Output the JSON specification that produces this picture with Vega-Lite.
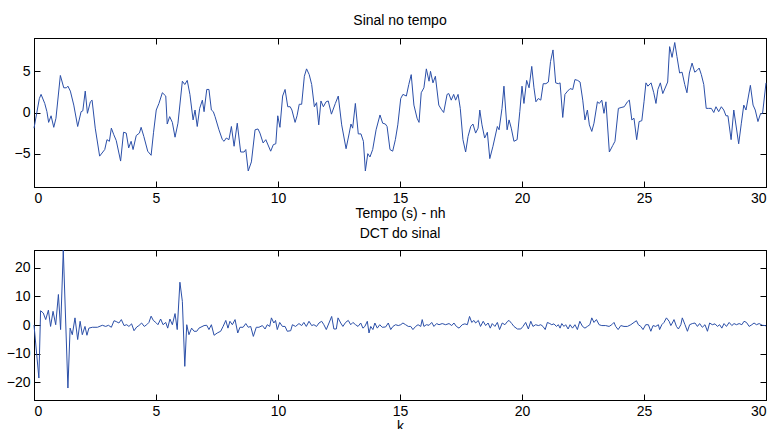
{
  "$schema": "https://vega.github.io/schema/vega-lite/v6.json",
  "autosize": {"type": "pad"},
  "padding": {"left": 5, "top": 13, "right": 0, "bottom": 0},
  "background": "white",
  "spacing": 63,
  "bounds": "flush",
  "config": {
    "view": {"stroke": "#000000", "strokeWidth": 1},
    "font": "Liberation Sans",
    "axis": {
      "grid": false,
      "domainColor": "#000000",
      "tickColor": "#000000",
      "tickSize": -6,
      "labelFont": "Liberation Sans",
      "labelFontSize": 14,
      "labelColor": "#000000",
      "labelPadding": 10,
      "titleFont": "Liberation Sans",
      "titleFontSize": 14,
      "titleFontWeight": "normal",
      "titleColor": "#000000",
      "titlePadding": 1
    },
    "title": {"font": "Liberation Sans", "fontSize": 14, "fontWeight": "normal", "color": "#000000", "offset": 10}
  },
  "datasets": {
    "sig": [
      {"t":0,"v":-1.9},{"t":0.22,"v":1.7},{"t":0.29,"v":2.2},{"t":0.44,"v":1.1},{"t":0.53,"v":0.1},{"t":0.6,"v":-1.2},{"t":0.7,"v":-0.4},{"t":0.81,"v":-1.8},{"t":0.9,"v":-0.7},{"t":1.08,"v":4.5},{"t":1.22,"v":3.0},{"t":1.33,"v":3.0},{"t":1.39,"v":3.2},{"t":1.49,"v":2.6},{"t":1.63,"v":0.9},{"t":1.79,"v":-1.7},{"t":1.93,"v":0.1},{"t":2.0,"v":0.2},{"t":2.1,"v":2.6},{"t":2.19,"v":-0.1},{"t":2.31,"v":1.3},{"t":2.38,"v":1.5},{"t":2.51,"v":-1.9},{"t":2.69,"v":-5.3},{"t":2.9,"v":-4.5},{"t":2.99,"v":-3.3},{"t":3.09,"v":-3.5},{"t":3.17,"v":-1.9},{"t":3.27,"v":-2.7},{"t":3.37,"v":-3.4},{"t":3.55,"v":-5.9},{"t":3.67,"v":-2.4},{"t":3.78,"v":-2.5},{"t":3.88,"v":-4.3},{"t":3.98,"v":-3.5},{"t":4.06,"v":-4.5},{"t":4.19,"v":-2.8},{"t":4.32,"v":-2.5},{"t":4.39,"v":-1.8},{"t":4.5,"v":-2.9},{"t":4.66,"v":-4.7},{"t":4.8,"v":-5.2},{"t":4.9,"v":-2.4},{"t":5.01,"v":0.3},{"t":5.12,"v":1.1},{"t":5.26,"v":2.4},{"t":5.4,"v":2.0},{"t":5.46,"v":-1.4},{"t":5.56,"v":-0.5},{"t":5.67,"v":-1.2},{"t":5.78,"v":-3.0},{"t":5.9,"v":-1.3},{"t":6.08,"v":3.8},{"t":6.18,"v":3.4},{"t":6.28,"v":3.9},{"t":6.39,"v":2.2},{"t":6.52,"v":-0.9},{"t":6.6,"v":0.3},{"t":6.69,"v":-1.7},{"t":6.79,"v":0.5},{"t":6.9,"v":1.5},{"t":6.97,"v":0.1},{"t":7.08,"v":2.8},{"t":7.17,"v":2.8},{"t":7.27,"v":0.3},{"t":7.35,"v":0.1},{"t":7.42,"v":-0.5},{"t":7.58,"v":-2.1},{"t":7.72,"v":-3.3},{"t":7.79,"v":-3.5},{"t":7.88,"v":-3.1},{"t":7.99,"v":-3.3},{"t":8.09,"v":-1.7},{"t":8.2,"v":-4.1},{"t":8.33,"v":-1.3},{"t":8.47,"v":-4.8},{"t":8.61,"v":-4.8},{"t":8.68,"v":-4.5},{"t":8.78,"v":-7.1},{"t":8.91,"v":-6.0},{"t":9.06,"v":-2.1},{"t":9.18,"v":-2.0},{"t":9.26,"v":-2.5},{"t":9.39,"v":-3.7},{"t":9.5,"v":-3.3},{"t":9.7,"v":-4.7},{"t":9.81,"v":-3.9},{"t":9.91,"v":-3.8},{"t":9.99,"v":-0.4},{"t":10.08,"v":-1.8},{"t":10.19,"v":2.0},{"t":10.29,"v":2.8},{"t":10.4,"v":0.7},{"t":10.5,"v":0.7},{"t":10.57,"v":0.3},{"t":10.7,"v":-1.2},{"t":10.78,"v":-0.4},{"t":10.87,"v":1.0},{"t":10.97,"v":1.0},{"t":11.08,"v":4.4},{"t":11.17,"v":5.3},{"t":11.28,"v":4.6},{"t":11.38,"v":3.4},{"t":11.49,"v":0.7},{"t":11.58,"v":1.2},{"t":11.67,"v":-1.5},{"t":11.76,"v":1.4},{"t":11.86,"v":0.7},{"t":11.97,"v":1.3},{"t":12.06,"v":1.4},{"t":12.19,"v":-0.2},{"t":12.35,"v":1.1},{"t":12.47,"v":2.0},{"t":12.61,"v":-1.5},{"t":12.79,"v":-4.4},{"t":12.92,"v":-2.5},{"t":12.99,"v":-1.4},{"t":13.06,"v":-1.9},{"t":13.17,"v":1.1},{"t":13.29,"v":-2.6},{"t":13.4,"v":-2.6},{"t":13.5,"v":-3.5},{"t":13.58,"v":-7.1},{"t":13.68,"v":-5.0},{"t":13.77,"v":-5.4},{"t":13.88,"v":-4.5},{"t":14.02,"v":-2.1},{"t":14.18,"v":-0.3},{"t":14.29,"v":-1.3},{"t":14.4,"v":-1.4},{"t":14.47,"v":-1.7},{"t":14.59,"v":-4.5},{"t":14.7,"v":-4.7},{"t":14.81,"v":-3.3},{"t":14.91,"v":-1.5},{"t":15.03,"v":1.7},{"t":15.12,"v":2.2},{"t":15.26,"v":2.0},{"t":15.36,"v":3.4},{"t":15.46,"v":4.6},{"t":15.57,"v":0.9},{"t":15.7,"v":-0.7},{"t":15.78,"v":-1.2},{"t":15.87,"v":2.4},{"t":15.98,"v":3.0},{"t":16.08,"v":5.3},{"t":16.19,"v":3.8},{"t":16.25,"v":5.0},{"t":16.35,"v":3.6},{"t":16.45,"v":4.4},{"t":16.59,"v":0.9},{"t":16.69,"v":0.4},{"t":16.79,"v":0.0},{"t":16.93,"v":2.2},{"t":17.0,"v":2.3},{"t":17.1,"v":1.5},{"t":17.2,"v":2.2},{"t":17.28,"v":1.5},{"t":17.38,"v":2.2},{"t":17.47,"v":0.5},{"t":17.58,"v":-3.3},{"t":17.69,"v":-4.8},{"t":17.79,"v":-2.9},{"t":17.9,"v":-1.7},{"t":17.99,"v":-1.4},{"t":18.1,"v":-2.5},{"t":18.2,"v":-1.9},{"t":18.27,"v":0.3},{"t":18.36,"v":-1.5},{"t":18.47,"v":-3.1},{"t":18.58,"v":-2.4},{"t":18.68,"v":-5.6},{"t":18.81,"v":-4.1},{"t":18.99,"v":-1.7},{"t":19.06,"v":-2.1},{"t":19.18,"v":0.5},{"t":19.26,"v":3.2},{"t":19.39,"v":-2.1},{"t":19.47,"v":-0.9},{"t":19.56,"v":-1.9},{"t":19.67,"v":-3.5},{"t":19.8,"v":-3.3},{"t":19.91,"v":0.1},{"t":20.0,"v":3.2},{"t":20.08,"v":1.1},{"t":20.19,"v":3.9},{"t":20.29,"v":3.0},{"t":20.4,"v":5.6},{"t":20.49,"v":3.0},{"t":20.57,"v":1.3},{"t":20.67,"v":1.7},{"t":20.77,"v":1.5},{"t":20.87,"v":3.5},{"t":20.98,"v":3.5},{"t":21.08,"v":3.7},{"t":21.17,"v":6.2},{"t":21.27,"v":7.6},{"t":21.38,"v":3.6},{"t":21.49,"v":3.5},{"t":21.56,"v":3.6},{"t":21.67,"v":-0.6},{"t":21.76,"v":2.2},{"t":21.87,"v":2.6},{"t":21.97,"v":2.9},{"t":22.08,"v":2.8},{"t":22.17,"v":4.0},{"t":22.28,"v":3.9},{"t":22.38,"v":3.7},{"t":22.49,"v":1.5},{"t":22.58,"v":-0.9},{"t":22.68,"v":0.3},{"t":22.76,"v":-1.5},{"t":22.86,"v":-2.3},{"t":22.95,"v":-1.3},{"t":23.09,"v":1.3},{"t":23.17,"v":1.1},{"t":23.27,"v":1.5},{"t":23.36,"v":-0.1},{"t":23.44,"v":1.3},{"t":23.58,"v":-4.8},{"t":23.72,"v":-4.0},{"t":23.81,"v":-3.5},{"t":23.95,"v":0.5},{"t":24.06,"v":0.6},{"t":24.19,"v":0.7},{"t":24.32,"v":1.3},{"t":24.4,"v":1.5},{"t":24.5,"v":-0.9},{"t":24.59,"v":-0.7},{"t":24.7,"v":-3.3},{"t":24.8,"v":-1.1},{"t":24.91,"v":-1.0},{"t":25.0,"v":1.3},{"t":25.08,"v":3.6},{"t":25.16,"v":3.2},{"t":25.29,"v":3.6},{"t":25.4,"v":2.4},{"t":25.49,"v":1.1},{"t":25.57,"v":2.8},{"t":25.67,"v":3.6},{"t":25.77,"v":2.3},{"t":25.97,"v":3.7},{"t":26.05,"v":8.0},{"t":26.15,"v":6.7},{"t":26.26,"v":8.5},{"t":26.35,"v":6.8},{"t":26.46,"v":4.8},{"t":26.56,"v":4.9},{"t":26.67,"v":3.4},{"t":26.76,"v":2.4},{"t":26.86,"v":4.8},{"t":26.97,"v":6.0},{"t":27.08,"v":4.9},{"t":27.17,"v":5.1},{"t":27.26,"v":5.4},{"t":27.35,"v":4.6},{"t":27.45,"v":3.4},{"t":27.55,"v":0.5},{"t":27.65,"v":0.5},{"t":27.76,"v":0.5},{"t":27.86,"v":0.0},{"t":27.95,"v":0.7},{"t":28.06,"v":0.1},{"t":28.17,"v":0.7},{"t":28.27,"v":0.3},{"t":28.36,"v":-0.4},{"t":28.44,"v":-0.4},{"t":28.57,"v":-3.3},{"t":28.68,"v":0.3},{"t":28.88,"v":-3.8},{"t":28.99,"v":-1.3},{"t":29.09,"v":0.9},{"t":29.18,"v":0.3},{"t":29.36,"v":3.3},{"t":29.47,"v":0.9},{"t":29.56,"v":0.3},{"t":29.67,"v":-1.1},{"t":29.77,"v":-0.2},{"t":29.86,"v":-0.1},{"t":30.0,"v":3.6}
    ],
    "dct": [
      {"k":0,"c":0},{"k":0.2,"c":-18.6},{"k":0.27,"c":5.0},{"k":0.38,"c":4.2},{"k":0.48,"c":1.9},{"k":0.59,"c":5.2},{"k":0.68,"c":-0.5},{"k":0.78,"c":4.8},{"k":0.89,"c":0.1},{"k":1.0,"c":10.7},{"k":1.09,"c":-1.6},{"k":1.2,"c":26.3},{"k":1.39,"c":-22.1},{"k":1.48,"c":-1.1},{"k":1.57,"c":-3.4},{"k":1.68,"c":2.5},{"k":1.79,"c":-5.1},{"k":1.89,"c":1.3},{"k":1.98,"c":-3.4},{"k":2.09,"c":-0.5},{"k":2.17,"c":-3.6},{"k":2.25,"c":-1.1},{"k":2.39,"c":-0.8},{"k":2.6,"c":-0.8},{"k":2.8,"c":-0.1},{"k":2.94,"c":-0.5},{"k":3.05,"c":-0.1},{"k":3.17,"c":-0.8},{"k":3.28,"c":1.5},{"k":3.37,"c":1.2},{"k":3.48,"c":0.7},{"k":3.58,"c":1.9},{"k":3.69,"c":-0.2},{"k":3.8,"c":0.1},{"k":3.89,"c":-0.5},{"k":4.0,"c":0.4},{"k":4.1,"c":-2.0},{"k":4.21,"c":-0.7},{"k":4.3,"c":-0.2},{"k":4.41,"c":0.7},{"k":4.52,"c":-0.5},{"k":4.62,"c":0.1},{"k":4.71,"c":0.9},{"k":4.8,"c":3.1},{"k":4.89,"c":1.6},{"k":4.99,"c":0.9},{"k":5.08,"c":0.1},{"k":5.19,"c":2.1},{"k":5.29,"c":0.1},{"k":5.4,"c":0.9},{"k":5.48,"c":-1.1},{"k":5.57,"c":2.1},{"k":5.67,"c":0.1},{"k":5.78,"c":4.0},{"k":5.87,"c":-1.6},{"k":5.98,"c":15.0},{"k":6.08,"c":8.3},{"k":6.18,"c":-14.5},{"k":6.26,"c":0.1},{"k":6.35,"c":-3.4},{"k":6.46,"c":-1.1},{"k":6.56,"c":-2.2},{"k":6.67,"c":-2.2},{"k":6.76,"c":-1.1},{"k":6.97,"c":-0.2},{"k":7.08,"c":-0.1},{"k":7.17,"c":-1.6},{"k":7.27,"c":0.1},{"k":7.38,"c":-3.6},{"k":7.51,"c":-2.8},{"k":7.65,"c":-2.2},{"k":7.75,"c":-0.5},{"k":7.86,"c":1.6},{"k":7.95,"c":-1.1},{"k":8.03,"c":1.3},{"k":8.13,"c":0.1},{"k":8.24,"c":1.9},{"k":8.35,"c":-2.8},{"k":8.44,"c":-0.8},{"k":8.57,"c":-0.8},{"k":8.68,"c":0.5},{"k":8.78,"c":-0.8},{"k":8.88,"c":-0.5},{"k":8.99,"c":-4.0},{"k":9.11,"c":-0.8},{"k":9.22,"c":-0.8},
      {"k":9.36,"c":-0.2},{"k":9.47,"c":-1.4},{"k":9.56,"c":0.1},{"k":9.66,"c":-0.5},{"k":9.73,"c":2.5},{"k":9.83,"c":0.7},{"k":9.9,"c":1.6},{"k":9.97,"c":-1.6},{"k":10.07,"c":0.9},{"k":10.18,"c":-0.5},{"k":10.29,"c":-0.5},{"k":10.38,"c":-2.2},{"k":10.52,"c":-2.0},{"k":10.59,"c":0.1},{"k":10.72,"c":-0.5},{"k":10.86,"c":0.5},{"k":10.97,"c":-0.2},{"k":11.06,"c":0.9},{"k":11.16,"c":-0.5},{"k":11.27,"c":1.3},{"k":11.38,"c":-0.2},{"k":11.47,"c":0.1},{"k":11.58,"c":-0.5},{"k":11.68,"c":0.7},{"k":11.79,"c":1.3},{"k":11.88,"c":0.1},{"k":11.98,"c":-1.6},{"k":12.09,"c":0.7},{"k":12.2,"c":3.0},{"k":12.29,"c":-1.4},{"k":12.39,"c":-1.4},{"k":12.46,"c":2.5},{"k":12.57,"c":0.7},{"k":12.66,"c":-0.5},{"k":12.77,"c":0.9},{"k":12.88,"c":1.6},{"k":12.98,"c":0.1},{"k":13.07,"c":0.9},{"k":13.18,"c":0.1},{"k":13.28,"c":-0.5},{"k":13.39,"c":0.7},{"k":13.48,"c":-1.1},{"k":13.56,"c":-0.5},{"k":13.66,"c":1.3},{"k":13.73,"c":-2.8},{"k":13.8,"c":-0.5},{"k":13.89,"c":-1.6},{"k":13.97,"c":0.7},{"k":14.07,"c":-1.1},{"k":14.17,"c":0.1},{"k":14.27,"c":-0.8},{"k":14.41,"c":-0.7},{"k":14.52,"c":0.7},{"k":14.62,"c":-1.6},{"k":14.71,"c":-0.5},{"k":14.82,"c":0.1},{"k":14.93,"c":-0.2},{"k":15.03,"c":0.1},{"k":15.12,"c":0.7},{"k":15.23,"c":0.1},{"k":15.34,"c":-0.5},{"k":15.44,"c":-0.5},{"k":15.53,"c":-1.6},{"k":15.64,"c":-0.5},{"k":15.74,"c":0.1},{"k":15.85,"c":-0.5},{"k":15.91,"c":1.9},{"k":15.98,"c":-0.5},{"k":16.08,"c":0.1},{"k":16.19,"c":-0.1},{"k":16.3,"c":0.9},{"k":16.39,"c":-0.5},{"k":16.5,"c":0.5},{"k":16.6,"c":0.1},{"k":16.73,"c":0.5},{"k":16.87,"c":0.1},{"k":17.01,"c":0.5},{"k":17.12,"c":-0.2},{"k":17.21,"c":0.7},{"k":17.31,"c":-0.5},{"k":17.42,"c":-1.1},{"k":17.55,"c":0.1},{"k":17.66,"c":0.4},{"k":17.76,"c":0.1},{"k":17.85,"c":3.0},{"k":17.94,"c":0.9},{"k":18.03,"c":1.6},{"k":18.1,"c":0.7},{"k":18.21,"c":1.6},{"k":18.3,"c":-0.5},{"k":18.41,"c":1.3},{"k":18.51,"c":-0.2},{"k":18.61,"c":0.7},{"k":18.7,"c":-1.1},{"k":18.78,"c":0.5},{"k":18.89,"c":-0.5},{"k":18.99,"c":0.9},{"k":19.08,"c":-1.6},{"k":19.19,"c":0.7},{"k":19.3,"c":0.1},{"k":19.41,"c":1.3},
      {"k":19.47,"c":1.6},{"k":19.58,"c":0.5},{"k":19.67,"c":-0.5},{"k":19.81,"c":-1.4},{"k":19.95,"c":-1.4},{"k":20.04,"c":-0.5},{"k":20.15,"c":0.9},{"k":20.26,"c":-1.4},{"k":20.36,"c":1.3},{"k":20.45,"c":-0.5},{"k":20.56,"c":0.1},{"k":20.67,"c":-0.2},{"k":20.77,"c":0.1},{"k":20.86,"c":-0.5},{"k":20.95,"c":-1.6},{"k":21.04,"c":0.9},{"k":21.14,"c":0.5},{"k":21.22,"c":0.1},{"k":21.31,"c":0.4},{"k":21.41,"c":-0.5},{"k":21.49,"c":0.1},{"k":21.56,"c":-1.1},{"k":21.63,"c":0.5},{"k":21.72,"c":-0.5},{"k":21.79,"c":0.1},{"k":21.89,"c":-1.4},{"k":21.97,"c":0.1},{"k":22.07,"c":-1.1},{"k":22.17,"c":0.1},{"k":22.27,"c":-1.6},{"k":22.37,"c":1.3},{"k":22.48,"c":-0.5},{"k":22.58,"c":-1.1},{"k":22.68,"c":-0.5},{"k":22.78,"c":0.1},{"k":22.86,"c":2.5},{"k":22.95,"c":0.9},{"k":23.05,"c":1.9},{"k":23.16,"c":0.1},{"k":23.27,"c":-0.2},{"k":23.43,"c":-0.2},{"k":23.57,"c":-0.5},{"k":23.68,"c":0.1},{"k":23.77,"c":0.9},{"k":23.84,"c":-0.5},{"k":23.94,"c":-1.6},{"k":24.05,"c":-0.2},{"k":24.18,"c":-0.5},{"k":24.32,"c":-0.5},{"k":24.46,"c":0.1},{"k":24.59,"c":0.9},{"k":24.69,"c":1.5},{"k":24.77,"c":0.1},{"k":24.87,"c":-0.5},{"k":24.96,"c":-1.6},{"k":25.07,"c":0.1},{"k":25.18,"c":0.1},{"k":25.28,"c":-2.2},{"k":25.37,"c":-0.2},{"k":25.48,"c":-0.5},{"k":25.59,"c":0.1},{"k":25.64,"c":-1.6},{"k":25.73,"c":0.1},{"k":25.82,"c":0.9},{"k":25.92,"c":2.5},{"k":26.03,"c":1.3},{"k":26.1,"c":-0.2},{"k":26.16,"c":0.7},{"k":26.23,"c":1.9},{"k":26.33,"c":-0.5},{"k":26.41,"c":-1.4},{"k":26.51,"c":0.1},{"k":26.57,"c":2.5},{"k":26.68,"c":0.1},{"k":26.78,"c":-2.2},{"k":26.87,"c":0.1},{"k":26.98,"c":0.5},{"k":27.09,"c":0.7},{"k":27.19,"c":-0.5},{"k":27.28,"c":0.5},{"k":27.39,"c":-0.8},{"k":27.5,"c":0.1},{"k":27.6,"c":-2.2},{"k":27.69,"c":0.7},{"k":27.8,"c":0.1},{"k":27.91,"c":0.4},{"k":28.01,"c":-0.5},{"k":28.1,"c":0.1},{"k":28.19,"c":-1.1},{"k":28.28,"c":0.5},{"k":28.38,"c":-0.5},{"k":28.49,"c":0.9},{"k":28.6,"c":-0.2},{"k":28.69,"c":0.5},{"k":28.79,"c":0.1},{"k":28.9,"c":0.5},{"k":29.01,"c":0.1},{"k":29.1,"c":1.3},{"k":29.2,"c":0.9},{"k":29.31,"c":-0.5},{"k":29.42,"c":0.1},{"k":29.51,"c":0.7},{"k":29.61,"c":0.1},{"k":29.72,"c":0.5},{"k":29.85,"c":-0.1},{"k":29.96,"c":-0.2},{"k":30.0,"c":-0.3}
    ]
  },
  "vconcat": [
    {
      "title": {"text": "Sinal no tempo"},
      "width": 732,
      "height": 149,
      "data": {"name": "sig"},
      "layer": [
        {
          "mark": {"type": "line", "color": "#2b4fa8", "strokeWidth": 1},
          "encoding": {
            "x": {"field": "t", "type": "quantitative", "scale": {"domain": [0, 30], "nice": false, "zero": false},
                  "axis": {"title": "Tempo (s) - nh", "values": [0, 5, 10, 15, 20, 25, 30]}},
            "y": {"field": "v", "type": "quantitative", "scale": {"domain": [-9.05, 9.05], "nice": false, "zero": false},
                  "axis": {"title": null, "values": [-5, 0, 5]}}
          }
        },
        {
          "mark": {"type": "line", "opacity": 0},
          "encoding": {
            "x": {"field": "t", "type": "quantitative", "axis": {"orient": "top", "labels": false, "title": null, "values": [0, 5, 10, 15, 20, 25, 30]}},
            "y": {"field": "v", "type": "quantitative", "axis": {"orient": "right", "labels": false, "title": null, "values": [-5, 0, 5]}}
          }
        }
      ],
      "resolve": {"axis": {"x": "independent", "y": "independent"}}
    },
    {
      "title": {"text": "DCT do sinal", "offset": 7},
      "width": 732,
      "height": 150,
      "data": {"name": "dct"},
      "layer": [
        {
          "mark": {"type": "line", "color": "#2b4fa8", "strokeWidth": 1},
          "encoding": {
            "x": {"field": "k", "type": "quantitative", "scale": {"domain": [0, 30], "nice": false, "zero": false},
                  "axis": {"title": "k", "values": [0, 5, 10, 15, 20, 25, 30]}},
            "y": {"field": "c", "type": "quantitative", "scale": {"domain": [-26.3, 26.3], "nice": false, "zero": false},
                  "axis": {"title": null, "values": [-20, -10, 0, 10, 20]}}
          }
        },
        {
          "mark": {"type": "line", "opacity": 0},
          "encoding": {
            "x": {"field": "k", "type": "quantitative", "axis": {"orient": "top", "labels": false, "title": null, "values": [0, 5, 10, 15, 20, 25, 30]}},
            "y": {"field": "c", "type": "quantitative", "axis": {"orient": "right", "labels": false, "title": null, "values": [-20, -10, 0, 10, 20]}}
          }
        }
      ],
      "resolve": {"axis": {"x": "independent", "y": "independent"}}
    }
  ]
}
